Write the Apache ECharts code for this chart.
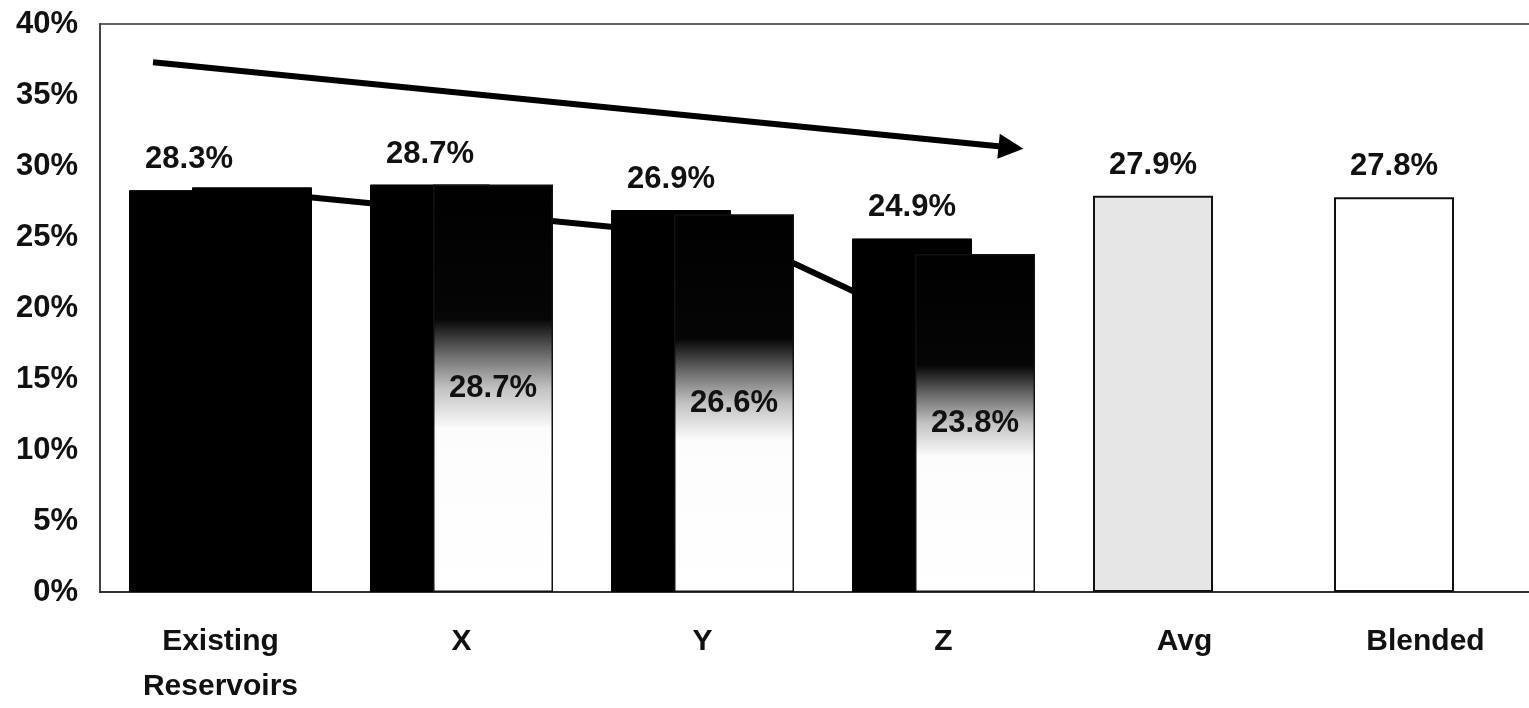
<!DOCTYPE html>
<html>
<head>
<meta charset="utf-8">
<style>
  html, body { margin: 0; padding: 0; background: #ffffff; overflow: hidden; }
  #chart { width: 1529px; height: 708px; }
</style>
<script src="https://cdn.jsdelivr.net/npm/echarts@6/dist/echarts.min.js"></script>
</head>
<body>
<div id="chart"></div>
<script>
// Rate of return by reservoir group
const categories = ['Existing\nReservoirs', 'X', 'Y', 'Z', 'Avg', 'Blended'];
const baseValues = [28.3, 28.7, 26.9, 24.9, 27.9, 27.8];      // left bar, labelled on top
const blendValues = [28.5, 28.7, 26.6, 23.8, null, null];     // right bar, labelled inside
const blendLabelShown = [false, true, true, true, false, false];
const yMin = 0, yMax = 40, yStep = 5;

// Annotation lines, in (category position, percent) units
const trendPoints = [[0.125, 28.2], [2.17, 24.8], [2.75, 20.2]];
const arrowFrom = [-0.28, 37.3];
const arrowTo = [3.28, 31.3];

const FONT = "'Liberation Sans', Arial, sans-serif";
const INK = '#111111';
const FS = 31;

const fadeFill = new echarts.graphic.LinearGradient(0, 0, 0, 1, [
  { offset: 0, color: '#000000' },
  { offset: 0.33, color: '#060606' },
  { offset: 0.42, color: '#6e6e6e' },
  { offset: 0.5, color: '#c2c2c2' },
  { offset: 0.6, color: '#fcfcfc' },
  { offset: 1, color: '#ffffff' }
]);

const baseStyles = [
  { color: '#000000', borderColor: '#000000', borderWidth: 1 },
  { color: '#000000', borderColor: '#000000', borderWidth: 1 },
  { color: '#000000', borderColor: '#000000', borderWidth: 1 },
  { color: '#000000', borderColor: '#000000', borderWidth: 1 },
  { color: '#e6e6e6', borderColor: '#111111', borderWidth: 2 },
  { color: '#ffffff', borderColor: '#111111', borderWidth: 2 }
];

const baseData = baseValues.map((v, i) => ({ value: v, itemStyle: baseStyles[i] }));
const blendData = blendValues.map((v, i) => {
  if (v === null) return { value: null };
  const solid = !blendLabelShown[i];
  return {
    value: v,
    itemStyle: solid
      ? { color: '#000000', borderColor: '#000000', borderWidth: 1 }
      : { color: fadeFill, borderColor: '#111111', borderWidth: 1.5 },
    label: { show: blendLabelShown[i] }
  };
});

const chart = echarts.init(document.getElementById('chart'), null, { renderer: 'canvas' });

chart.setOption({
  backgroundColor: '#ffffff',
  animation: false,
  textStyle: { fontFamily: FONT },
  grid: {
    left: 100, top: 24, width: 1446, height: 568,
    outerBoundsMode: 'none',
    containLabel: false,
    show: true, borderColor: '#333333', borderWidth: 1.5, backgroundColor: 'transparent'
  },
  xAxis: [
    {
      type: 'category',
      data: categories,
      axisLine: { show: true, lineStyle: { color: '#222222', width: 1.5 } },
      axisTick: { show: false },
      axisLabel: {
        color: INK, fontFamily: FONT, fontWeight: 'bold', fontSize: 30,
        lineHeight: 45, margin: 27, interval: 0
      },
      splitLine: { show: false }
    },
    {
      type: 'value',
      min: -0.5, max: 5.5,
      show: false
    }
  ],
  yAxis: {
    type: 'value',
    min: yMin, max: yMax, interval: yStep,
    axisLine: { show: true, onZero: false, lineStyle: { color: '#444444', width: 2 } },
    axisTick: { show: false },
    splitLine: { show: false },
    axisLabel: {
      formatter: '{value}%',
      color: INK, fontFamily: FONT, fontWeight: 'bold', fontSize: FS, margin: 22
    }
  },
  series: [
    {
      name: 'trend',
      type: 'line',
      xAxisIndex: 1,
      data: trendPoints,
      symbol: 'none',
      z: 1,
      lineStyle: { color: '#000000', width: 6 },
      silent: true
    },
    {
      name: 'base',
      type: 'bar',
      data: baseData,
      barWidth: 120,
      barGap: '-47.5%',
      z: 2,
      label: {
        show: true, position: 'top', distance: 15,
        formatter: p => p.value.toFixed(1) + '%',
        color: INK, fontFamily: FONT, fontWeight: 'bold', fontSize: FS
      }
    },
    {
      name: 'blend',
      type: 'bar',
      data: blendData,
      barWidth: 120,
      z: 3,
      label: {
        show: true, position: 'inside',
        formatter: p => p.value.toFixed(1) + '%',
        color: INK, fontFamily: FONT, fontWeight: 'bold', fontSize: FS
      }
    },
    {
      name: 'direction',
      type: 'line',
      xAxisIndex: 1,
      data: [],
      z: 5,
      silent: true,
      markLine: {
        silent: true,
        symbol: ['none', 'triangle'],
        symbolSize: [25, 25],
        label: { show: false },
        lineStyle: { color: '#000000', width: 6, type: 'solid' },
        data: [[{ coord: arrowFrom }, { coord: arrowTo }]]
      }
    }
  ]
});
</script>
</body>
</html>
